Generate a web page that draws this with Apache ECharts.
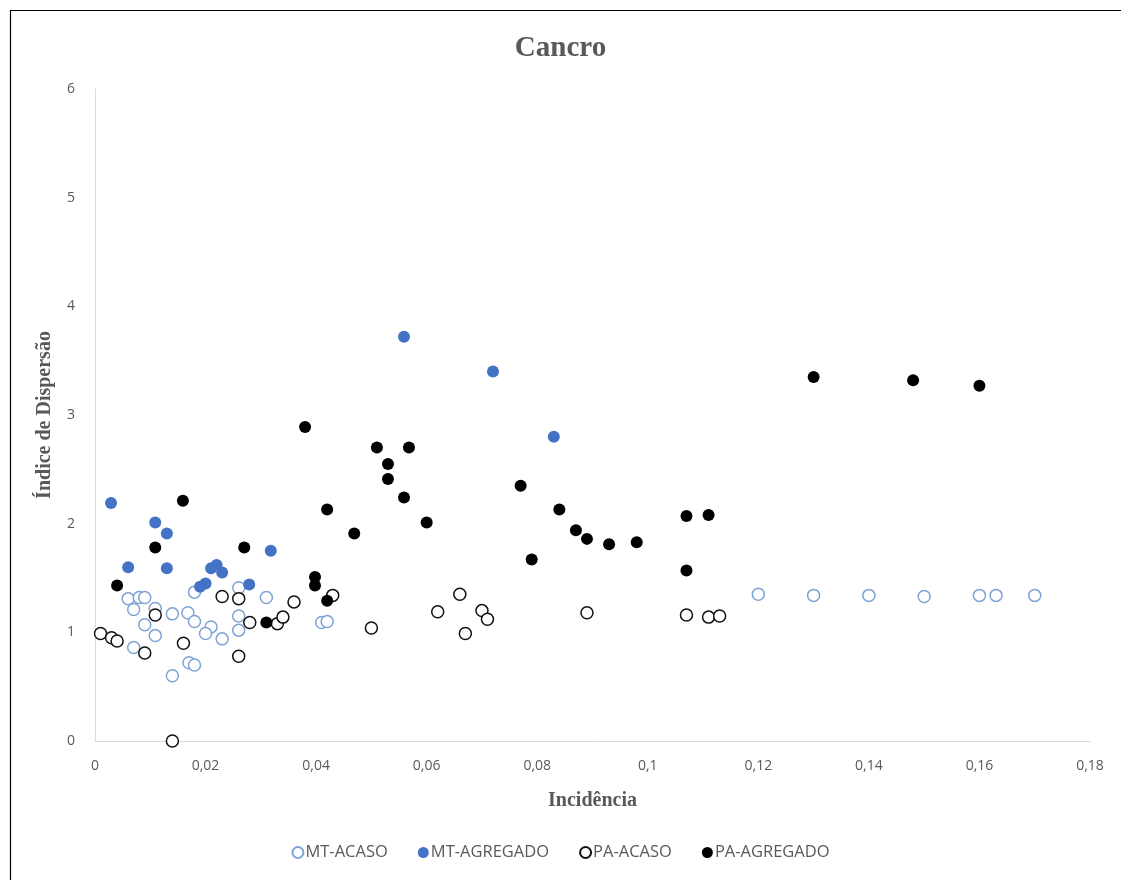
<!DOCTYPE html>
<html>
<head>
<meta charset="utf-8">
<style>
  html, body { margin: 0; padding: 0; background: #fff; }
  #chart { width: 1121px; height: 880px; }
</style>
<script src="https://cdn.jsdelivr.net/npm/echarts@6/dist/echarts.min.js"></script>
</head>
<body>
<div id="chart"></div>
<script>
// Incidência vs. Índice de Dispersão (Cancro)
const seriesNames = ['MT-ACASO', 'MT-AGREGADO', 'PA-ACASO', 'PA-AGREGADO'];

const mtAcaso = [
  [0.006, 1.31], [0.008, 1.32], [0.009, 1.32], [0.007, 1.21], [0.0109, 1.22],
  [0.014, 1.17], [0.0168, 1.18], [0.018, 1.37], [0.018, 1.10], [0.009, 1.07],
  [0.0109, 0.97], [0.021, 1.05], [0.020, 0.99], [0.023, 0.94], [0.026, 1.41],
  [0.026, 1.15], [0.026, 1.02], [0.031, 1.32], [0.007, 0.86], [0.014, 0.60],
  [0.017, 0.72], [0.018, 0.70], [0.041, 1.09], [0.042, 1.10], [0.120, 1.35],
  [0.130, 1.34], [0.140, 1.34], [0.150, 1.33], [0.160, 1.34], [0.163, 1.34],
  [0.170, 1.34]
];

const mtAgregado = [
  [0.0029, 2.19], [0.006, 1.60], [0.0109, 2.01], [0.013, 1.91], [0.013, 1.59],
  [0.019, 1.42], [0.020, 1.45], [0.021, 1.59], [0.022, 1.62], [0.023, 1.55],
  [0.0279, 1.44], [0.0318, 1.75], [0.0559, 3.72], [0.072, 3.40], [0.083, 2.80]
];

const paAcaso = [
  [0.001, 0.99], [0.003, 0.95], [0.004, 0.92], [0.009, 0.81], [0.0109, 1.16],
  [0.016, 0.90], [0.014, 0.00], [0.023, 1.33], [0.026, 1.31], [0.026, 0.78],
  [0.028, 1.09], [0.033, 1.08], [0.034, 1.14], [0.036, 1.28], [0.043, 1.34],
  [0.050, 1.04], [0.062, 1.19], [0.066, 1.35], [0.067, 0.99], [0.070, 1.20],
  [0.071, 1.12], [0.089, 1.18], [0.107, 1.16], [0.111, 1.14], [0.113, 1.15]
];

const paAgregado = [
  [0.004, 1.43], [0.0109, 1.78], [0.0159, 2.21], [0.027, 1.78], [0.031, 1.09],
  [0.038, 2.89], [0.0398, 1.51], [0.0398, 1.43], [0.042, 1.29], [0.042, 2.13],
  [0.0469, 1.91], [0.051, 2.70], [0.0568, 2.70], [0.053, 2.55], [0.053, 2.41],
  [0.0559, 2.24], [0.060, 2.01], [0.077, 2.35], [0.084, 2.13], [0.079, 1.67],
  [0.087, 1.94], [0.089, 1.86], [0.093, 1.81], [0.098, 1.83], [0.107, 2.07],
  [0.111, 2.08], [0.107, 1.57], [0.130, 3.35], [0.148, 3.32], [0.160, 3.27]
];

const gray = '#595959';
const tickFont = '"Open Sans", "Liberation Sans", sans-serif';
const serif = '"Liberation Serif", "DejaVu Serif", serif';

function fmtComma(v) {
  return String(Number(v.toFixed(2))).replace('.', ',');
}

const chart = echarts.init(document.getElementById('chart'));

const markerSize = 12;
function openStyle(stroke) {
  return { color: '#ffffff', borderColor: stroke, borderWidth: 1.5, opacity: 1 };
}
function filledStyle(fill) {
  return { color: fill, opacity: 1 };
}

chart.setOption({
  backgroundColor: '#ffffff',
  animation: false,
  title: {
    text: 'Cancro',
    left: 'center',
    top: 29,
    textStyle: { fontFamily: serif, fontWeight: 'bold', fontSize: 29, color: gray }
  },
  graphic: [{
    type: 'rect',
    shape: { x: 10.5, y: 10.5, width: 1130, height: 890 },
    style: { fill: 'none', stroke: '#000', lineWidth: 1.2 },
    silent: true
  }],
  legend: {
    bottom: 14,
    left: 'center',
    itemWidth: 11,
    itemHeight: 11,
    itemGap: 30,
    icon: 'circle',
    textStyle: { fontFamily: tickFont, fontSize: 16.5, color: gray, padding: [0, 0, 0, -3] },
    data: seriesNames
  },
  grid: { left: 95, right: 31, top: 89, bottom: 139, containLabel: false },
  xAxis: {
    type: 'value',
    min: 0,
    max: 0.18,
    interval: 0.02,
    name: 'Incidência',
    nameLocation: 'middle',
    nameGap: 50,
    nameTextStyle: { fontFamily: serif, fontWeight: 'bold', fontSize: 20, color: gray },
    axisLine: { show: true, lineStyle: { color: '#d9d9d9', width: 1 } },
    axisTick: { show: false },
    splitLine: { show: false },
    axisLabel: { color: gray, fontFamily: tickFont, fontSize: 14, margin: 18, formatter: fmtComma }
  },
  yAxis: {
    type: 'value',
    min: 0,
    max: 6,
    interval: 1,
    name: 'Índice de Dispersão',
    nameLocation: 'middle',
    nameGap: 40,
    nameRotate: 90,
    nameTextStyle: { fontFamily: serif, fontWeight: 'bold', fontSize: 20, color: gray },
    axisLine: { show: true, lineStyle: { color: '#d9d9d9', width: 1 } },
    axisTick: { show: false },
    splitLine: { show: false },
    axisLabel: { color: gray, fontFamily: tickFont, fontSize: 14, margin: 20, formatter: fmtComma }
  },
  series: [
    { name: 'MT-ACASO', type: 'scatter', data: mtAcaso, symbol: 'circle', symbolSize: markerSize,
      itemStyle: openStyle('#7fa3d6'), z: 2 },
    { name: 'MT-AGREGADO', type: 'scatter', data: mtAgregado, symbol: 'circle', symbolSize: markerSize,
      itemStyle: filledStyle('#4472c4'), z: 3 },
    { name: 'PA-ACASO', type: 'scatter', data: paAcaso, symbol: 'circle', symbolSize: markerSize,
      itemStyle: openStyle('#111111'), z: 4 },
    { name: 'PA-AGREGADO', type: 'scatter', data: paAgregado, symbol: 'circle', symbolSize: markerSize,
      itemStyle: filledStyle('#000000'), z: 5 }
  ]
});
</script>
</body>
</html>
